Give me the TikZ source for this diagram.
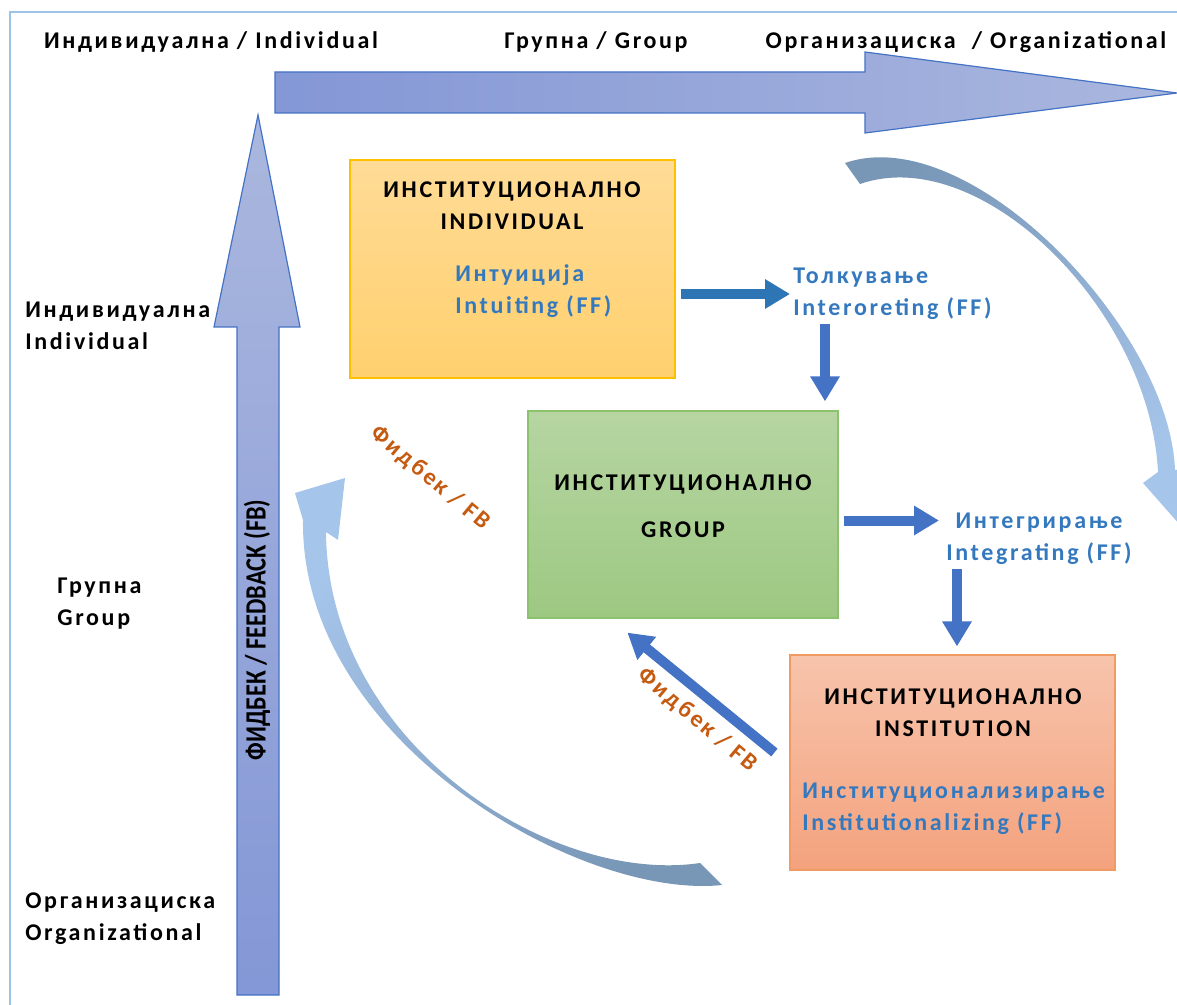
\documentclass[tikz,border=0pt]{standalone}
\usepackage{fontspec}
\setmainfont{Carlito}[LetterSpace=11]
\newfontfamily\axisfont{Carlito}
\usetikzlibrary{arrows.meta,positioning}
\definecolor{framelight}{RGB}{157,195,230}
\definecolor{axisdark}{RGB}{132,151,214}
\definecolor{axislight}{RGB}{170,183,222}
\definecolor{axisline}{RGB}{68,114,196}
\definecolor{flowblue}{RGB}{68,114,196}
\definecolor{steelblue}{RGB}{46,117,182}
\definecolor{labelblue}{RGB}{52,120,190}
\definecolor{fbbrown}{RGB}{197,90,17}
\definecolor{indivtop}{RGB}{255,219,150}
\definecolor{indivbot}{RGB}{255,208,110}
\definecolor{indivline}{RGB}{255,192,0}
\definecolor{grptop}{RGB}{182,213,162}
\definecolor{grpbot}{RGB}{157,200,130}
\definecolor{grpline}{RGB}{140,193,110}
\definecolor{insttop}{RGB}{247,196,172}
\definecolor{instbot}{RGB}{244,162,125}
\definecolor{instline}{RGB}{241,155,100}
\definecolor{curvedark}{RGB}{120,150,182}
\definecolor{curvelight}{RGB}{166,197,234}

\begin{document}
\begin{tikzpicture}[
    x=0.5pt, y=-0.5pt,
    every node/.style={font=\fontsize{12}{16}\selectfont\bfseries},
    lvl/.style={align=left, anchor=west, inner sep=0pt},
    stage/.style={rectangle, inner sep=0pt, line width=0.6pt},
    title/.style={align=center, inner sep=0pt},
    ff/.style={text=labelblue, align=left, inner sep=0pt},
    fb/.style={text=fbbrown, rotate=-40, inner sep=0pt},
    flow/.style={draw=flowblue, line width=5pt, -{Triangle[length=12.5pt,width=14pt]}},
    axis/.style={draw=axisline, line width=0.6pt}
  ]
    \useasboundingbox (0,0) rectangle (1177,1005);
    \clip (0,0) rectangle (1177,1005);
    \draw[framelight, line width=1pt] (10,1005) -- (10,12) -- (1177,12);

    % level axes
    \shadedraw[axis, left color=axisdark, right color=axislight]
      (275,72) -- (865,72) -- (865,52) -- (1177,93) -- (865,133) -- (865,113) -- (275,113) -- cycle;
    \shadedraw[axis, top color=axislight, bottom color=axisdark]
      (258,115) -- (300,327) -- (279,327) -- (279,995) -- (237,995) -- (237,327) -- (214,327) -- cycle;
    \node[rotate=90, font=\axisfont\fontsize{14.7}{16}\selectfont\bfseries] (fbaxis) at (257,630)
      {\scalebox{0.83}[1]{ФИДБЕК / FEEDBACK (FB)}};

    \node (topind) at (211,42) {Индивидуална / Individual};
    \node (topgrp) at (596,42) {Групна / Group};
    \node (toporg) at (966,42) {Организациска\ \ / Organizational};
    \node[lvl] (lind) at (25,326) {Индивидуална\\Individual};
    \node[lvl] (lgrp) at (57,604) {Групна\\Group};
    \node[lvl] (lorg) at (25,919) {Организациска\\Organizational};

    % curved feed-forward / feedback arrows
    \shade[top color=curvedark, bottom color=curvelight, shading angle=45]
      (845,163) .. controls (970,120) and (1170,330) .. (1175,470) -- (1200,466) -- (1180,525)
      -- (1143,483) -- (1158,472) .. controls (1150,310) and (981,142) .. (860,184) -- cycle;
    \shade[top color=curvelight, bottom color=curvedark, shading angle=45]
      (722,885) .. controls (580,900) and (300,740) .. (303,520) -- (295,493) -- (345,478)
      -- (338,540) -- (326,532) .. controls (328,745) and (552,885) .. (700,863) -- cycle;

    % stages
    \node[stage, draw=indivline, top color=indivtop, bottom color=indivbot,
      minimum width=162.5pt, minimum height=109pt] (indiv) at (512.5,269) {};
    \node[stage, draw=grpline, top color=grptop, bottom color=grpbot,
      minimum width=155pt, minimum height=103.5pt] (grp) at (683,514.5) {};
    \node[stage, draw=instline, top color=insttop, bottom color=instbot,
      minimum width=162.5pt, minimum height=107.5pt] (inst) at (952.5,762.5) {};

    \node[title] (indivtitle) at (512,206) {ИНСТИТУЦИОНАЛНО\\INDIVIDUAL};
    \node[ff, anchor=west] (intuit) at (455,291) {Интуиција\\Intuiting (FF)};
    \node[ff, anchor=west] (interp) at (793,294) {Толкување\\Interoreting (FF)};
    \node[title] (grptitle) at (683,506) {ИНСТИТУЦИОНАЛНО\\[7.5pt]GROUP};
    \node[ff, align=center] (integ) at (1039,539) {Интегрирање\\Integrating (FF)};
    \node[title] (insttitle) at (953,713) {ИНСТИТУЦИОНАЛНО\\INSTITUTION};
    \node[ff, anchor=west] (instff) at (802,808.5) {Институционализирање\\Institutionalizing (FF)};

    \node[fb] (fbone) at (430,478) {Фидбек / FB};
    \node[fb] (fbtwo) at (697,720) {Фидбек / FB};

    % connectors
    \coordinate (tdown) at ([xshift=16pt]interp.south west);
    \coordinate (gout) at ([yshift=-3pt]grp.east);
    \coordinate (idown) at ([xshift=5.5pt]integ.south west);
    \draw[flow, draw=steelblue, shorten <=2.5pt, shorten >=1.5pt] (indiv.east |- interp.west) -- (interp.west);
    \draw[flow, shorten <=2pt, shorten >=4.5pt] (tdown) -- (tdown |- grp.north);
    \draw[flow, shorten <=2.5pt, shorten >=3.5pt] (gout) -- (gout -| integ.west);
    \draw[flow, shorten <=2pt, shorten >=4pt] (idown) -- (idown |- inst.north);
    \draw[flow] ([shift={(-15,-10)}]inst.west) -- ([shift={(100,14)}]grp.south west);
  \end{tikzpicture}
\end{document}
